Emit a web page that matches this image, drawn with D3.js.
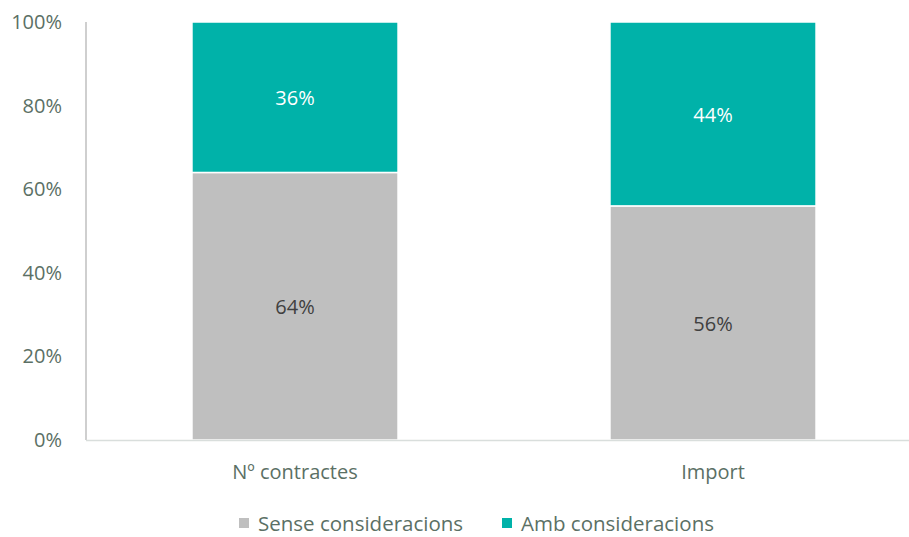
<!DOCTYPE html>
<html>
<head>
<meta charset="utf-8">
<script src="https://cdn.jsdelivr.net/npm/d3@7"></script>
<style>
  body { margin: 0; background: #fff; }
  text { font-family: "Open Sans", Lato, sans-serif; }
</style>
</head>
<body>
<svg id="chart" width="909" height="537"></svg>
<script>
const categories = ["Nº contractes", "Import"];
const sense = [0.64, 0.56];
const amb = [0.36, 0.44];
const yTicks = [0, 0.2, 0.4, 0.6, 0.8, 1];
const seriesNames = ["Sense consideracions", "Amb consideracions"];

const textColor = "#5b7065";
const colors = ["#bfbfbf", "#00b2a9"];
const svg = d3.select("#chart");

const x = d3.scaleBand()
  .domain(categories)
  .range([86, 922])
  .paddingInner(0.507)
  .paddingOuter(0.2535);

const y = d3.scaleLinear().domain([0, 1]).range([440, 22]);

// y axis labels
svg.append("g").selectAll("text")
  .data(yTicks)
  .join("text")
  .attr("x", 62)
  .attr("y", d => y(d) + 7)
  .attr("text-anchor", "end")
  .style("font-size", "20px")
  .style("fill", textColor)
  .text(d => d3.format(".0%")(d));

// stacked bars
const rows = categories.map((c, i) => ({ cat: c, sense: sense[i], amb: amb[i] }));
const stack = d3.stack().keys(["sense", "amb"])(rows);

stack.forEach((layer, li) => {
  svg.append("g").selectAll("rect")
    .data(layer)
    .join("rect")
    .attr("x", d => x(d.data.cat))
    .attr("y", d => y(d[1]))
    .attr("width", x.bandwidth())
    .attr("height", d => y(d[0]) - y(d[1]))
    .attr("fill", colors[li])
    .attr("stroke", "#fff")
    .attr("stroke-width", 1.5);

  svg.append("g").selectAll("text")
    .data(layer)
    .join("text")
    .attr("x", d => x(d.data.cat) + x.bandwidth() / 2)
    .attr("y", d => (y(d[0]) + y(d[1])) / 2 + 8)
    .attr("text-anchor", "middle")
    .style("font-size", "20px")
    .style("fill", li === 0 ? "#404040" : "#fff")
    .text(d => d3.format(".0%")(d[1] - d[0]));
});

// axis lines
svg.append("line")
  .attr("x1", 86).attr("x2", 86)
  .attr("y1", y(1)).attr("y2", y(0))
  .attr("stroke", "#bfbfbf").attr("stroke-width", 1.5);
svg.append("line")
  .attr("x1", 86).attr("x2", 909)
  .attr("y1", y(0) + 0.5).attr("y2", y(0) + 0.5)
  .attr("stroke", "#d9dedc").attr("stroke-width", 1.5);

// category labels
svg.append("g").selectAll("text")
  .data(categories)
  .join("text")
  .attr("x", d => x(d) + x.bandwidth() / 2)
  .attr("y", 479)
  .attr("text-anchor", "middle")
  .style("font-size", "20px")
  .style("fill", textColor)
  .text(d => d);

// legend
const legendX = [239, 502];
seriesNames.forEach((name, i) => {
  svg.append("rect")
    .attr("x", legendX[i]).attr("y", 518)
    .attr("width", 10).attr("height", 10)
    .attr("fill", colors[i]);
  svg.append("text")
    .attr("x", legendX[i] + 19)
    .attr("y", 531)
    .style("font-size", "20.5px")
    .style("fill", textColor)
    .text(name);
});
</script>
</body>
</html>
